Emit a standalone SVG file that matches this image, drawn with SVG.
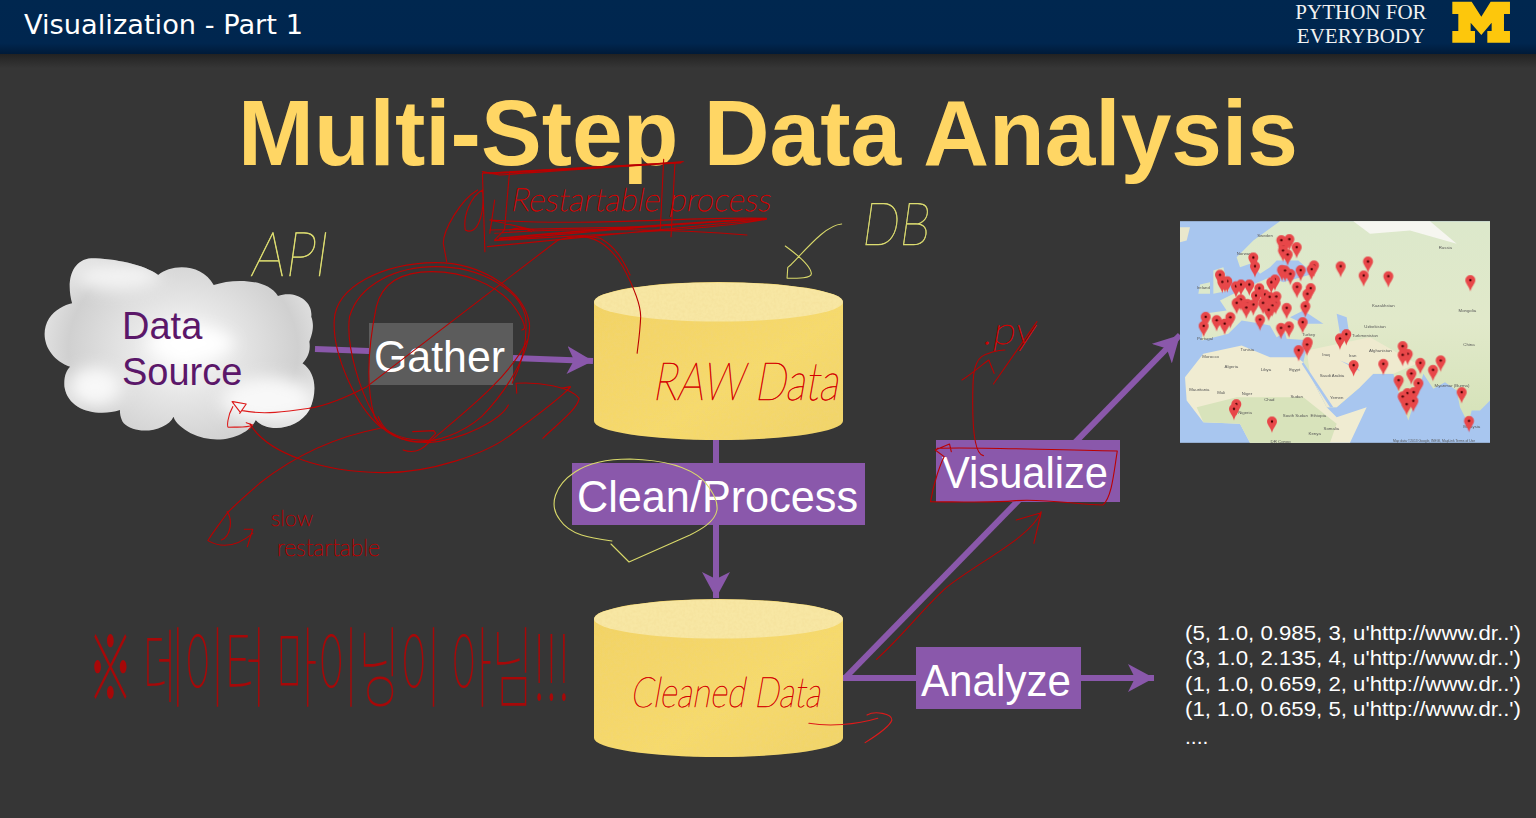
<svg xmlns="http://www.w3.org/2000/svg" width="1536" height="818" viewBox="0 0 1536 818">
<style>
.ar{font-family:"Liberation Sans",Arial,sans-serif}
.box{fill:#8a58ab}
.lab{font-family:"Liberation Sans",Arial,sans-serif;fill:#fff;font-size:44px}
.res{font-family:"Liberation Sans",Arial,sans-serif;fill:#fff;font-size:21px}
.con{stroke:#8a58ab;stroke-width:6;fill:none}
.ink{fill:none;stroke:#bb0000;stroke-width:1.1;stroke-linecap:round;stroke-linejoin:round}
.ink path{vector-effect:non-scaling-stroke}
.hot{stroke:#dd1a1a}
.yel{fill:none;stroke:#d9d96a;stroke-width:1.1;stroke-linecap:round;stroke-linejoin:round}
.yel path{vector-effect:non-scaling-stroke}
.hw{font-family:"Lato","Noto Sans",sans-serif;font-weight:100;stroke-width:.55}
.hr{fill:#d40000;stroke:#d40000}.hy{fill:#dcdc70;stroke:#dcdc70}.hd{fill:#b80000;stroke:#b80000}
.kr{font-family:"Noto Sans CJK KR",sans-serif;font-weight:100;fill:#bb0000;opacity:.85}
.pin{fill:#e8474a}
</style>
<defs>
<linearGradient id="hdr" x1="0" y1="0" x2="0" y2="1"><stop offset="0" stop-color="#00274f"/><stop offset=".8" stop-color="#00264f"/><stop offset="1" stop-color="#001a38"/></linearGradient>
<linearGradient id="shd" x1="0" y1="0" x2="0" y2="1"><stop offset="0" stop-color="#222"/><stop offset="1" stop-color="#363636"/></linearGradient>
<linearGradient id="cyl" x1="0" y1="0" x2="1" y2="1"><stop offset="0" stop-color="#f2d263"/><stop offset=".6" stop-color="#f6da6c"/><stop offset="1" stop-color="#f1d468"/></linearGradient>
<radialGradient id="cl" gradientUnits="userSpaceOnUse" cx="400" cy="390" r="400"><stop offset="0" stop-color="#fdfdfd"/><stop offset=".35" stop-color="#e6e6e6"/><stop offset=".75" stop-color="#d0d0d0"/><stop offset="1" stop-color="#e8e8e8"/></radialGradient>
<linearGradient id="land" x1="0" y1="0" x2="0" y2="1"><stop offset="0" stop-color="#dce8cb"/><stop offset=".5" stop-color="#e1e9ca"/><stop offset="1" stop-color="#d5e2b8"/></linearGradient>
<clipPath id="cc"><path d="M110,250 C95,190 105,120 160,115 C220,115 300,135 335,165 C370,130 450,130 480,195 C530,175 620,175 648,228 C690,210 740,240 735,290 C745,320 735,350 730,365 C735,400 720,420 712,430 C750,460 750,520 730,570 C700,630 620,640 590,600 C570,650 490,680 420,640 C400,625 380,610 375,590 C360,630 280,650 245,610 C235,595 235,575 235,570 C180,590 100,575 90,500 C88,470 95,450 105,440 C50,420 20,350 50,295 C65,270 90,255 110,250Z"/></clipPath>
<filter id="b1" x="-5%" y="-5%" width="110%" height="110%"><feGaussianBlur stdDeviation="1.6"/></filter>
<filter id="b2" x="-50%" y="-50%" width="200%" height="200%"><feGaussianBlur stdDeviation="22"/></filter>
<filter id="b3"><feGaussianBlur stdDeviation=".45"/></filter>
<filter id="grain" x="0" y="0" width="100%" height="100%"><feTurbulence type="fractalNoise" baseFrequency=".35" numOctaves="2" seed="4" result="n"/><feColorMatrix in="n" type="matrix" values="0 0 0 0 .85  0 0 0 0 .65  0 0 0 0 .25  .5 0 0 0 -.17" result="c"/><feComposite in="c" in2="SourceGraphic" operator="in" result="t"/><feMerge><feMergeNode in="SourceGraphic"/><feMergeNode in="t"/></feMerge></filter>
<marker id="ah" markerUnits="userSpaceOnUse" viewBox="0 0 26 28" refX="26" refY="14" markerWidth="26" markerHeight="28" orient="auto"><path d="M0,0 L26,14 L0,28 L7,14Z" fill="#8a58ab"/></marker>
<symbol id="p" overflow="visible"><path class="pin" d="M-15,0 A15,15 0 1 1 15,0 C15,10 3,20 0,34 C-3,20 -15,10 -15,0Z"/><circle r="3.6" fill="#400"/></symbol>
<g id="cylshape" filter="url(#grain)"><path d="M0,20 A124.5,20 0 0 1 249,20 V139 A124.5,19 0 0 1 0,139Z" fill="url(#cyl)"/><ellipse cx="124.5" cy="20" rx="124.5" ry="19.5" fill="#f8e7a4"/></g>
</defs>
<rect width="1536" height="818" fill="#363636"/>
<rect y="54" width="1536" height="14" fill="url(#shd)"/>
<rect width="1536" height="54" fill="url(#hdr)"/>
<text x="24" y="34" font-family="'DejaVu Sans',sans-serif" font-size="26" fill="#fff" textLength="279" lengthAdjust="spacingAndGlyphs">Visualization - Part 1</text>
<text font-family="'Liberation Serif',serif" font-size="21" fill="#f2f2f2" text-anchor="middle"><tspan x="1361" y="19">PYTHON FOR</tspan><tspan x="1361" y="43">EVERYBODY</tspan></text>
<path transform="translate(1280,0) scale(.3333)" d="M517,5 H575 L604,50 L632,5 H690 V42 H672 V93 H690 V128 H622 V93 H635 V68 L604,105 L572,68 V93 H585 V128 H517 V93 H535 V42 H517Z" fill="#fdc70c"/>
<text class="ar" x="238" y="165" font-size="93" font-weight="700" fill="#ffd664" textLength="1060" lengthAdjust="spacingAndGlyphs">Multi-Step Data Analysis</text>

<g id="connectors">
<path class="con" d="M315,349 L369,351"/>
<path class="con" d="M513,358 L593,361" marker-end="url(#ah)"/>
<path class="con" d="M716,440 V598" marker-end="url(#ah)"/>
<path class="con" d="M845,678 L1180,335" marker-end="url(#ah)"/>
<path class="con" d="M843,678 H1154" marker-end="url(#ah)"/>
</g>

<g id="data-source">
<g transform="translate(30,220) scale(.3827,.3333)">
<path d="M110,250 C95,190 105,120 160,115 C220,115 300,135 335,165 C370,130 450,130 480,195 C530,175 620,175 648,228 C690,210 740,240 735,290 C745,320 735,350 730,365 C735,400 720,420 712,430 C750,460 750,520 730,570 C700,630 620,640 590,600 C570,650 490,680 420,640 C400,625 380,610 375,590 C360,630 280,650 245,610 C235,595 235,575 235,570 C180,590 100,575 90,500 C88,470 95,450 105,440 C50,420 20,350 50,295 C65,270 90,255 110,250Z" fill="url(#cl)"/>
<g clip-path="url(#cc)">
<ellipse cx="620" cy="540" rx="120" ry="70" fill="#f8f8f8" filter="url(#b2)"/>
<ellipse cx="170" cy="500" rx="70" ry="60" fill="#f8f8f8" filter="url(#b2)"/>
<ellipse cx="230" cy="170" rx="110" ry="45" fill="#f2f2f2" filter="url(#b2)"/>
<ellipse cx="420" cy="370" rx="110" ry="50" fill="#fff" filter="url(#b2)"/>
</g>
</g>
<text class="ar" font-size="38" fill="#5b1769"><tspan x="122" y="339">Data</tspan><tspan x="122" y="385">Source</tspan></text>
</g>

<g id="gather"><rect x="369" y="323" width="144" height="62" fill="#5c5c5c"/><text class="lab" x="374" y="372" textLength="131" lengthAdjust="spacingAndGlyphs">Gather</text></g>

<g id="raw-db"><use href="#cylshape" x="594" y="282"/></g>
<g id="clean-db"><use href="#cylshape" x="594" y="599"/></g>

<g id="clean"><rect class="box" x="572" y="463" width="293" height="62"/><text class="lab" x="577" y="512" textLength="281" lengthAdjust="spacingAndGlyphs">Clean/Process</text></g>
<g id="visualize"><rect class="box" x="936" y="440" width="184" height="62"/><text class="lab" x="942" y="488" textLength="166" lengthAdjust="spacingAndGlyphs">Visualize</text></g>
<g id="analyze"><rect class="box" x="916" y="647" width="165" height="62"/><text class="lab" x="921" y="696" textLength="150" lengthAdjust="spacingAndGlyphs">Analyze</text></g>

<g id="map">
<svg x="1180" y="221" width="310" height="222" viewBox="30 32 930 665">
<g filter="url(#b1)">
<rect x="30" y="32" width="930" height="665" fill="#a8c6ef"/>
<path fill="url(#land)" d="M440,32 H960 V570 L930,600 L905,600 L895,640 L870,590 L860,540 L825,515 L790,535 L760,490 L745,540 L715,630 L690,560 L670,490 L610,490 L580,495 L570,530 L500,590 L470,590 L420,490 L400,455 L410,410 L425,390 L350,385 L345,365 L320,380 L300,345 L275,340 L215,330 L175,370 L95,390 L100,310 L170,300 L150,270 L230,230 L300,200 L340,215 L430,190 L385,150 L320,150 L300,170 L270,190 L240,160 L210,170 L200,140 L250,90 L330,32Z"/>
<path fill="#dce8cb" d="M130,180 L160,170 L178,240 L130,250Z M90,222 L120,215 L120,250 L85,250Z"/>
<path fill="#e9e7cc" d="M30,50 H60 L50,90 L30,95Z"/>
<path fill="#f0ecd2" d="M45,500 L100,430 L215,405 L300,440 L380,440 L400,455 L470,590 L500,620 L590,590 L540,697 H240 L210,640 L100,635 L50,570Z"/>
<path fill="#d8e3bb" d="M80,590 L200,560 L400,560 L500,640 L480,697 H240 L210,640 L100,635Z"/>
<path fill="#efeacf" d="M410,420 L600,380 L740,460 L670,490 L610,490 L570,530 L500,590 L470,590 L420,490Z"/>
<path fill="#a8c6ef" d="M360,320 L400,300 L460,340 L400,340Z M500,310 L530,320 L540,385 L510,370Z M510,450 L570,482 L560,470Z M400,455 L490,590 L480,590 L395,460Z"/>
<path fill="#f6f6f0" d="M550,32 H780 L860,100 L720,60 L600,70Z"/>
</g>
<g font-family="'Liberation Sans',sans-serif" font-size="13" fill="#555" text-anchor="middle" filter="url(#b3)">
<text x="285" y="80">Sweden</text><text x="826" y="116">Russia</text><text x="222" y="132">Norway</text><text x="100" y="236">Ireland</text><text x="640" y="290">Kazakhstan</text><text x="892" y="305">Mongolia</text><text x="416" y="375">Turkey</text><text x="615" y="352">Uzbekistan</text><text x="585" y="380">Turkmenistan</text><text x="897" y="405">China</text><text x="631" y="425">Afghanistan</text><text x="548" y="440">Iran</text><text x="468" y="436">Iraq</text><text x="122" y="442">Morocco</text><text x="232" y="422">Tunisia</text><text x="184" y="472">Algeria</text><text x="288" y="481">Libya</text><text x="374" y="481">Egypt</text><text x="486" y="500">Saudi Arabia</text><text x="88" y="542">Mauritania</text><text x="154" y="551">Mali</text><text x="231" y="554">Niger</text><text x="298" y="572">Chad</text><text x="380" y="562">Sudan</text><text x="500" y="566">Yemen</text><text x="846" y="530">Myanmar (Burma)</text><text x="445" y="618">Ethiopia</text><text x="376" y="620">South Sudan</text><text x="484" y="659">Somalia</text><text x="434" y="674">Kenya</text><text x="332" y="697">DR Congo</text><text x="225" y="611">Nigeria</text><text x="905" y="651">Malaysia</text><text x="105" y="388">Portugal</text>
<text x="792" y="694" font-size="10">Map data ©2013 Google, INEGI, MapLink  Terms of Use</text>
</g>
<g filter="url(#b3)">
<use href="#p" x="150" y="193"/><use href="#p" x="165" y="212"/><use href="#p" x="172" y="212"/><use href="#p" x="157" y="214"/><use href="#p" x="198" y="227"/><use href="#p" x="213" y="222"/><use href="#p" x="238" y="222"/><use href="#p" x="268" y="233"/><use href="#p" x="315" y="207"/><use href="#p" x="304" y="215"/><use href="#p" x="250" y="141"/><use href="#p" x="255" y="167"/><use href="#p" x="334" y="89"/><use href="#p" x="358" y="86"/><use href="#p" x="380" y="110"/><use href="#p" x="340" y="108"/><use href="#p" x="339" y="120"/><use href="#p" x="353" y="132"/><use href="#p" x="336" y="178"/><use href="#p" x="345" y="180"/><use href="#p" x="361" y="190"/><use href="#p" x="392" y="179"/><use href="#p" x="432" y="165"/><use href="#p" x="425" y="176"/><use href="#p" x="512" y="167"/><use href="#p" x="581" y="195"/><use href="#p" x="594" y="153"/><use href="#p" x="655" y="197"/><use href="#p" x="901" y="209"/><use href="#p" x="422" y="233"/><use href="#p" x="381" y="229"/><use href="#p" x="412" y="250"/><use href="#p" x="406" y="287"/><use href="#p" x="350" y="292"/><use href="#p" x="258" y="255"/><use href="#p" x="285" y="252"/><use href="#p" x="299" y="259"/><use href="#p" x="319" y="258"/><use href="#p" x="279" y="277"/><use href="#p" x="250" y="282"/><use href="#p" x="232" y="280"/><use href="#p" x="229" y="291"/><use href="#p" x="212" y="267"/><use href="#p" x="200" y="277"/><use href="#p" x="317" y="278"/><use href="#p" x="307" y="285"/><use href="#p" x="296" y="298"/><use href="#p" x="270" y="327"/><use href="#p" x="107" y="319"/><use href="#p" x="101" y="346"/><use href="#p" x="140" y="329"/><use href="#p" x="181" y="320"/><use href="#p" x="164" y="339"/><use href="#p" x="398" y="335"/><use href="#p" x="333" y="352"/><use href="#p" x="357" y="348"/><use href="#p" x="413" y="395"/><use href="#p" x="411" y="402"/><use href="#p" x="386" y="419"/><use href="#p" x="529" y="371"/><use href="#p" x="510" y="384"/><use href="#p" x="551" y="464"/><use href="#p" x="640" y="460"/><use href="#p" x="698" y="407"/><use href="#p" x="713" y="430"/><use href="#p" x="698" y="433"/><use href="#p" x="751" y="457"/><use href="#p" x="812" y="450"/><use href="#p" x="789" y="478"/><use href="#p" x="724" y="489"/><use href="#p" x="686" y="509"/><use href="#p" x="745" y="518"/><use href="#p" x="731" y="545"/><use href="#p" x="712" y="548"/><use href="#p" x="698" y="558"/><use href="#p" x="730" y="571"/><use href="#p" x="710" y="581"/><use href="#p" x="875" y="545"/><use href="#p" x="897" y="631"/><use href="#p" x="306" y="633"/><use href="#p" x="199" y="581"/><use href="#p" x="192" y="595"/>
</g>
</svg>
</g>

<g id="results" class="res">
<text x="1185" y="640" textLength="336" lengthAdjust="spacingAndGlyphs">(5, 1.0, 0.985, 3, u'http://www.dr..')</text>
<text x="1185" y="665" textLength="336" lengthAdjust="spacingAndGlyphs">(3, 1.0, 2.135, 4, u'http://www.dr..')</text>
<text x="1185" y="691" textLength="336" lengthAdjust="spacingAndGlyphs">(1, 1.0, 0.659, 2, u'http://www.dr..')</text>
<text x="1185" y="716" textLength="336" lengthAdjust="spacingAndGlyphs">(1, 1.0, 0.659, 5, u'http://www.dr..')</text>
<text x="1185" y="744">....</text>
</g>

<g id="handwriting-ink">
<g class="ink" transform="scale(.4898,.3333)">
<path d="M990,755 L985,520 L1390,487 M985,515 L1020,525 C1150,510 1280,500 1395,485 M1040,520 L1030,690 L1010,720 C1180,700 1380,670 1565,655 C1400,650 1200,680 1000,660 L1090,690 M1355,478 L1348,690 M1378,490 L1370,710 M995,740 C1200,710 1400,680 1565,658 C1450,690 1250,700 1010,722 M1010,700 C1200,680 1400,690 1525,705 M1040,690 C1060,680 1075,685 1085,695 M1000,690 L1340,680 M985,570 C960,590 945,650 950,690 C975,710 990,640 985,570 M975,570 C940,600 905,690 905,730 L912,785 M1010,600 L1000,700"/>
<path style="stroke-width:1.7" d="M1020,715 C1200,690 1400,670 1560,656 M1000,520 C1150,510 1300,495 1390,488"/>
</g>
<g class="ink" transform="translate(30,220) scale(.3827,.3333)">
<path d="M920,625 C850,560 790,400 795,300 C800,200 920,130 1060,128 C1180,128 1290,210 1305,310 C1310,400 1240,520 1180,590 C1130,640 1060,670 1000,665 C950,655 920,625 910,590"/>
<path d="M1260,490 C1290,420 1300,350 1295,290 C1280,210 1180,140 1060,140 C960,140 860,190 835,290 C825,370 860,530 920,620 C950,650 1000,665 1060,660"/>
<path d="M1250,555 C1230,600 1130,660 1040,668 C970,665 920,640 900,590 C880,510 880,400 905,260 C920,190 970,155 1050,155 C1130,155 1220,190 1265,260 C1290,300 1300,330 1285,330"/>
<path d="M1380,60 L880,500 C830,530 780,555 730,565"/>
<path class="hot" d="M730,565 C670,575 610,585 555,572 M530,545 L565,552 L548,580 M528,545 L548,575 M530,560 C515,590 515,620 518,622 C540,620 565,625 582,615 M565,608 L582,615 L572,628"/>
<path d="M975,690 C1000,700 1020,695 1040,670 C1120,590 1250,480 1300,360 M1000,635 L1055,632 L1060,640 L1040,665"/>
<path d="M915,625 C800,650 700,700 600,790 C560,830 530,860 515,880 C490,920 470,950 465,962 C500,985 540,980 582,940 M560,928 L582,928 L568,980 M515,875 C530,900 525,950 500,960"/>
<path d="M575,612 C620,700 760,755 920,758 C1050,760 1190,700 1250,650 C1320,590 1380,540 1412,502 M1388,505 L1412,500 L1400,515 M1272,520 L1270,490 C1330,485 1410,500 1435,535 C1430,570 1370,620 1340,655"/>
<path d="M1380,60 C1410,50 1450,45 1490,55 C1530,80 1550,120 1568,165"/>
</g>
<g class="ink" transform="translate(580,190) scale(.357,.3333)">
<path d="M0,140 C40,140 80,160 120,230 C150,290 170,340 170,380 C168,430 162,470 160,490"/>
<path d="M1130,797 C1115,795 1100,760 1100,640 C1100,570 1100,520 1125,500 C1140,490 1170,480 1190,480 M1070,570 C1100,550 1130,520 1145,510 L1160,550 M1158,582 L1280,395"/>
<path d="M1000,775 C1100,770 1300,780 1505,783 C1495,850 1490,920 1465,945 C1400,945 1300,925 1220,932 C1150,940 1050,935 982,935 C990,880 1010,820 1020,800 L995,780 L1035,762 L1040,785"/>
</g>
<g class="ink" transform="translate(580,500) scale(.3827,.3333)">
<path d="M775,478 C850,400 900,320 960,260 C1050,180 1180,110 1205,35 M1140,60 L1205,38 L1186,130"/>
<path class="hot" d="M598,670 C650,680 720,675 778,655 M750,645 C770,632 815,640 815,660 C810,680 770,710 745,728"/>
</g>
<g class="yel" transform="translate(580,190) scale(.357,.3333)">
<path d="M733,102 C690,105 640,170 590,225 L582,232 L580,265 C610,265 650,265 648,250 C645,225 610,195 575,168"/>
</g>
<g class="yel"><path d="M612,541 C590,538 570,535 560,520 C548,505 555,485 575,472 C590,462 610,459 630,459 C665,460 690,468 703,480 C712,490 718,500 717,510 C715,522 700,530 690,535 L629,562 L611,544"/></g>

<text class="hw hy" transform="translate(250,276) skewX(-8) scale(1,1.35)" font-size="46" textLength="76" lengthAdjust="spacingAndGlyphs">API</text>
<text class="hw hy" transform="translate(860,245) skewX(-8) scale(1,1.1)" font-size="54" textLength="68" lengthAdjust="spacingAndGlyphs">DB</text>
<text class="hw hr" transform="translate(510,211) skewX(-10)" font-size="32" textLength="260" lengthAdjust="spacingAndGlyphs">Restartable process</text>
<text class="hw hr" transform="translate(652,400) skewX(-10) scale(1,1.15)" font-size="46" textLength="186" lengthAdjust="spacingAndGlyphs">RAW Data</text>
<text class="hw hr" transform="translate(630,707) skewX(-10)" font-size="42" textLength="190" lengthAdjust="spacingAndGlyphs">Cleaned Data</text>
<text class="hw hr" transform="translate(982,344) skewX(-10)" font-size="38" textLength="52" lengthAdjust="spacingAndGlyphs">.py</text>
<text class="hw hd" x="271" y="526" font-size="22" textLength="42" lengthAdjust="spacingAndGlyphs">slow</text>
<text class="hw hd" x="277" y="556" font-size="24" textLength="103" lengthAdjust="spacingAndGlyphs">restartable</text>
<text class="kr" transform="translate(88,700) scale(1,1.2)" font-size="74" textLength="482" lengthAdjust="spacingAndGlyphs">※ 데이터 마이닝이 아님!!!</text>
</g>
</svg>
